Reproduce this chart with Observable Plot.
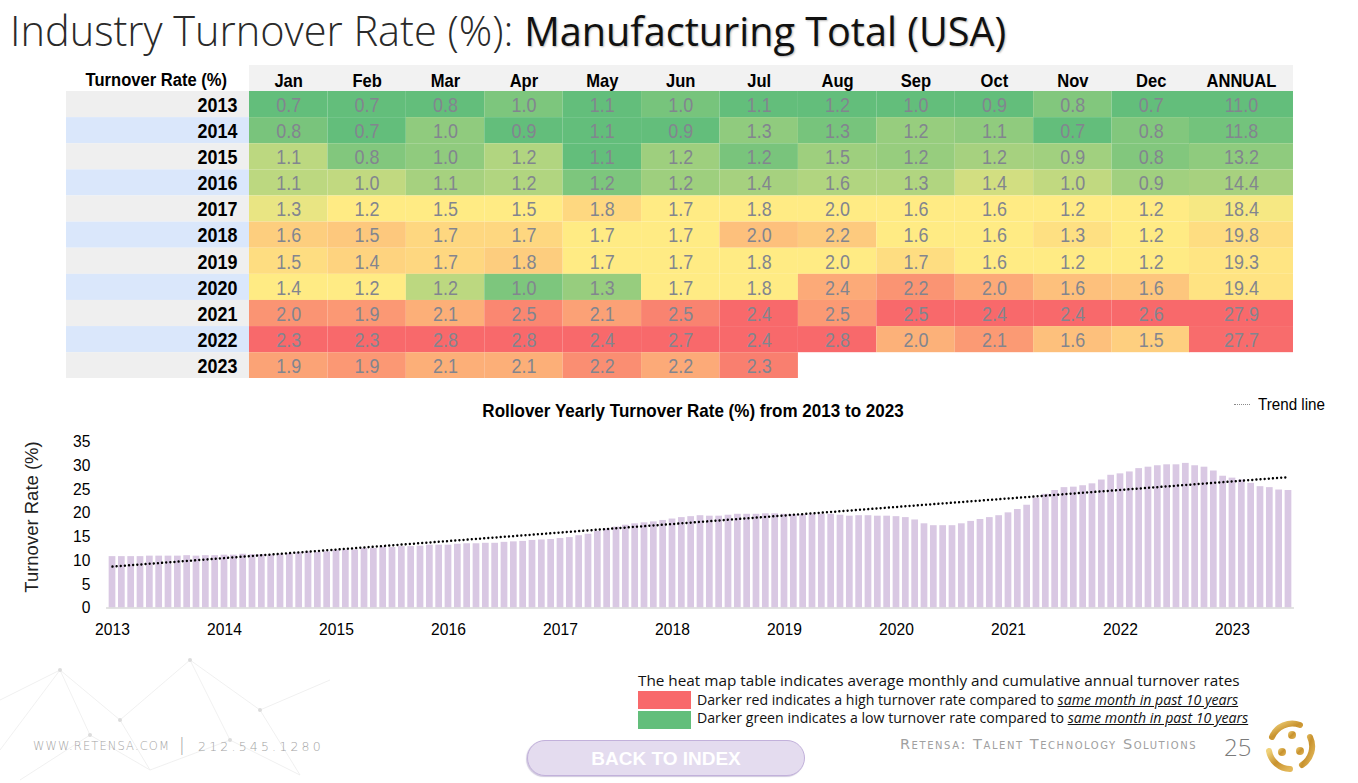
<!DOCTYPE html>
<html>
<head>
<meta charset="utf-8">
<script src="https://cdn.jsdelivr.net/npm/d3@7"></script>
<script src="https://cdn.jsdelivr.net/npm/@observablehq/plot@0.6"></script>
<style>
  html, body { margin:0; padding:0; background:#fff; }
  body { width:1358px; height:783px; position:relative; overflow:hidden; }
  .abs { position:absolute; }
  .narrow { font-family:"Liberation Sans Narrow","Arial Narrow","Liberation Sans",Arial,sans-serif; }
  .sq { transform:scaleX(0.92); transform-origin:0 0; }
  #title { left:10px; top:0px; font-family:"Open Sans","Noto Sans",sans-serif; white-space:nowrap; color:#2a2a2a; line-height:60px; }
  #title .light { font-weight:300; font-size:41.5px; }
  #title .reg { font-weight:400; font-size:39.6px; color:#111; text-shadow:1px 1px 2px rgba(0,0,0,0.28); }
  #hdrbg { left:249px; top:65px; width:1044px; height:26px; background:#f2f2f2; }
  #hdrlabel { left:66px; top:65px; width:161px; height:26px; line-height:31px; text-align:right; font-weight:bold; font-size:18px; color:#000; transform:scaleX(0.92); transform-origin:100% 0; }
  #chartTitle { left:393px; top:400px; width:600px; text-align:center; font-weight:bold; font-size:18.5px; color:#000; transform:scaleX(0.92); transform-origin:50% 0; }
  #ylabel { left:32px; top:517px; transform:translate(-50%,-50%) rotate(-90deg); font-family:"Liberation Sans",Arial,sans-serif; font-size:18.5px; color:#222; white-space:nowrap; }
  #trendLeg { left:1234px; top:404px; width:16px; border-top:1.5px dotted #8a8a8a; }
  #trendTxt { left:1258px; top:395px; font-size:16.5px; color:#000; }
  .note { font-family:"Open Sans","Noto Sans",sans-serif; color:#111; white-space:nowrap; }
  .note u { font-style:italic; }
  .sw { width:53px; height:18px; }
  .foot { top:739px; font-family:"DejaVu Sans","Lato",sans-serif; font-weight:300; font-size:11.5px; color:#a3a3a3; white-space:nowrap; }
  #btn { left:527px; top:740px; width:276px; height:34px; border-radius:18px; background:#e4dcef; border:1.5px solid #c2b1db; box-shadow:-1px 1px 1px rgba(120,100,160,0.35); font-family:"Liberation Sans",Arial,sans-serif; font-weight:bold; font-size:19px; color:#fff; text-align:center; line-height:36px; }
  #footR { left:900px; top:736px; font-family:"DejaVu Sans","Lato",sans-serif; font-size:14.5px; font-variant:small-caps; letter-spacing:1.55px; color:#a0a0a0; white-space:nowrap; }
  #page { left:1224px; top:730px; font-family:"Open Sans","Noto Sans",sans-serif; font-weight:300; font-size:24px; color:#7a7a7a; }
</style>
</head>
<body>
<svg class="abs" style="left:0;top:640px" width="360" height="143">
  <g stroke="#ececec" stroke-width="0.8" fill="none">
    <path d="M0,60 L60,30 L120,80 L190,20 L260,70 L330,40"/>
    <path d="M20,140 L90,95 L150,130 L230,100 L300,135"/>
    <path d="M60,30 L90,95 M120,80 L150,130 M190,20 L230,100 M260,70 L300,135 M0,110 L60,30"/>
  </g>
  <g fill="#dcdcdc">
    <circle cx="60" cy="30" r="2"/><circle cx="120" cy="80" r="2"/><circle cx="190" cy="20" r="2"/>
    <circle cx="260" cy="70" r="2"/><circle cx="90" cy="95" r="2"/><circle cx="230" cy="100" r="2"/>
  </g>
</svg>

<div id="title" class="abs"><span class="light">Industry Turnover Rate (%): </span><span class="reg">Manufacturing Total (USA)</span></div>

<div id="hdrbg" class="abs"></div>
<div id="hdrlabel" class="abs narrow">Turnover Rate (%)</div>
<div id="labelCol" class="abs sq" style="left:66px;top:65px"></div>
<div id="monthCol" class="abs sq" style="left:249px;top:65px"></div>
<div id="annualCol" class="abs sq" style="left:1189px;top:65px"></div>

<div id="chartTitle" class="abs narrow">Rollover Yearly Turnover Rate (%) from 2013 to 2023</div>
<div id="trendLeg" class="abs"></div>
<div id="trendTxt" class="abs narrow sq">Trend line</div>
<div id="ylabel" class="abs">Turnover Rate (%)</div>
<div id="barChart" class="abs sq" style="left:0;top:425px"></div>

<div class="abs note" style="left:638px;top:670px;font-size:15.3px">The heat map table indicates average monthly and cumulative annual turnover rates</div>
<div class="abs sw" style="left:638px;top:691px;background:#f8696b"></div>
<div class="abs note" style="left:697px;top:690px;font-size:14.15px">Darker red indicates a high turnover rate compared to <u>same month in past 10 years</u></div>
<div class="abs sw" style="left:638px;top:711px;background:#63be7b"></div>
<div class="abs note" style="left:697px;top:708px;font-size:14.15px">Darker green indicates a low turnover rate compared to <u>same month in past 10 years</u></div>

<div class="abs foot" style="left:33px;letter-spacing:1.1px">WWW.RETENSA.COM</div>
<div class="abs foot" style="left:179px;top:735px;font-size:17px">|</div>
<div class="abs foot" style="left:198px;font-size:12.5px;letter-spacing:3.2px">212.545.1280</div>
<div id="btn" class="abs">BACK TO INDEX</div>
<div id="footR" class="abs">Retensa: Talent Technology Solutions</div>
<div id="page" class="abs">25</div>
<svg class="abs" style="left:1262px;top:717px" width="58" height="58" viewBox="0 0 58 58">
  <defs><linearGradient id="gold" x1="0" y1="0" x2="1" y2="1"><stop offset="0" stop-color="#f0d27a"/><stop offset="0.5" stop-color="#c8922e"/><stop offset="1" stop-color="#e3b85a"/></linearGradient></defs>
  <g fill="none" stroke="url(#gold)" stroke-width="6" stroke-linecap="round">
    <path d="M10,20 A22,22 0 0 1 38,8"/>
    <path d="M48,20 A22,22 0 0 1 40,48"/>
    <path d="M28,52 A22,22 0 0 1 7,34"/>
  </g>
  <g fill="url(#gold)"><circle cx="30" cy="18" r="4"/><circle cx="38" cy="34" r="4"/><circle cx="20" cy="35" r="4"/></g>
</svg>

<script>
// ---------- DATA ----------
const years = [2013, 2014, 2015, 2016, 2017, 2018, 2019, 2020, 2021, 2022, 2023];
const months = ["Jan","Feb","Mar","Apr","May","Jun","Jul","Aug","Sep","Oct","Nov","Dec"];
const annualLabel = "ANNUAL";
const monthlyRates = [
  [0.7, 0.7, 0.8, 1.0, 1.1, 1.0, 1.1, 1.2, 1.0, 0.9, 0.8, 0.7],
  [0.8, 0.7, 1.0, 0.9, 1.1, 0.9, 1.3, 1.3, 1.2, 1.1, 0.7, 0.8],
  [1.1, 0.8, 1.0, 1.2, 1.1, 1.2, 1.2, 1.5, 1.2, 1.2, 0.9, 0.8],
  [1.1, 1.0, 1.1, 1.2, 1.2, 1.2, 1.4, 1.6, 1.3, 1.4, 1.0, 0.9],
  [1.3, 1.2, 1.5, 1.5, 1.8, 1.7, 1.8, 2.0, 1.6, 1.6, 1.2, 1.2],
  [1.6, 1.5, 1.7, 1.7, 1.7, 1.7, 2.0, 2.2, 1.6, 1.6, 1.3, 1.2],
  [1.5, 1.4, 1.7, 1.8, 1.7, 1.7, 1.8, 2.0, 1.7, 1.6, 1.2, 1.2],
  [1.4, 1.2, 1.2, 1.0, 1.3, 1.7, 1.8, 2.4, 2.2, 2.0, 1.6, 1.6],
  [2.0, 1.9, 2.1, 2.5, 2.1, 2.5, 2.4, 2.5, 2.5, 2.4, 2.4, 2.6],
  [2.3, 2.3, 2.8, 2.8, 2.4, 2.7, 2.4, 2.8, 2.0, 2.1, 1.6, 1.5],
  [1.9, 1.9, 2.1, 2.1, 2.2, 2.2, 2.3, null, null, null, null, null]
];
const annualRates = [11.0, 11.8, 13.2, 14.4, 18.4, 19.8, 19.3, 19.4, 27.9, 27.7, null];

// rolling 12-month turnover (bars)
const rolling2013 = [10.8, 10.8, 10.8, 10.8, 10.9, 10.9, 10.9, 10.9, 11.0, 10.9, 11.0, 11.0];
const rolling2014 = [11.1, 11.1, 11.3, 11.2, 11.2, 11.1, 11.3, 11.4, 11.6, 11.8, 11.7, 11.8];
const rolling2015 = [12.1, 12.2, 12.2, 12.5, 12.5, 12.8, 12.7, 12.9, 12.9, 13.0, 13.2, 13.2];
const rolling2016 = [13.2, 13.4, 13.5, 13.5, 13.6, 13.6, 13.8, 13.9, 14.0, 14.2, 14.3, 14.4];
const rolling2017 = [14.6, 14.8, 15.2, 15.5, 16.1, 16.6, 17.0, 17.4, 17.7, 17.9, 18.1, 18.4];
const rolling2018 = [18.7, 19.0, 19.2, 19.4, 19.3, 19.3, 19.5, 19.7, 19.7, 19.7, 19.8, 19.8];
const rolling2019 = [19.7, 19.6, 19.6, 19.7, 19.7, 19.7, 19.5, 19.3, 19.4, 19.4, 19.3, 19.3];
const rolling2020 = [19.2, 19.0, 18.5, 17.7, 17.3, 17.3, 17.3, 17.7, 18.2, 18.6, 19.0, 19.4];
const rolling2021 = [20.0, 20.7, 21.6, 23.1, 23.9, 24.7, 25.3, 25.4, 25.7, 26.1, 26.9, 27.9];
const rolling2022 = [28.2, 28.6, 29.3, 29.6, 29.9, 30.1, 30.1, 30.4, 29.9, 29.6, 28.8, 27.7];
const rolling2023 = [27.3, 26.9, 26.2, 25.5, 25.3, 24.8, 24.7];
const trendEnds = [8.7, 27.5];
const yTicks = [0, 5, 10, 15, 20, 25, 30, 35];

// ---------- BUILD ----------
const S = 0.92; // horizontal squeeze applied by CSS to get condensed lettering
const NARROW = '"Liberation Sans Narrow","Arial Narrow","Liberation Sans",Arial,sans-serif';
const heatColors = ["#63be7b", "#ffeb84", "#f8696b"];
const yearLabels = years.map(String);
const TABLE_H = 26 + 11 * 26.12;

function mount(id, plot, width) {
  const el = document.getElementById(id);
  el.style.width = (width / S) + "px";
  el.append(plot);
}

// per-column 3-color scale position (min -> median -> max), like a spreadsheet color scale
function normalizer(values) {
  const v = values.filter(d => d != null);
  const lo = d3.min(v), hi = d3.max(v), mid = d3.median(v);
  return x => x <= mid ? 0.5 * (mid === lo ? 1 : (x - lo) / (mid - lo)) : 0.5 + 0.5 * (x - mid) / (hi - mid);
}
const cells = [];
months.forEach((m, j) => {
  const col = monthlyRates.map(r => r[j]);
  const f = normalizer(col);
  col.forEach((v, i) => { if (v != null) cells.push({year: yearLabels[i], col: m, value: v, t: f(v)}); });
});
const annualCells = [];
{
  const f = normalizer(annualRates);
  annualRates.forEach((v, i) => { if (v != null) annualCells.push({year: yearLabels[i], col: annualLabel, value: v, t: f(v)}); });
}

function heat(data, domain, width) {
  return Plot.plot({
    width: width / S, height: TABLE_H, marginTop: 26, marginBottom: 0, marginLeft: 0, marginRight: 0,
    style: {background: "transparent", fontFamily: NARROW, fontSize: "18px", fontWeight: "bold", color: "#000"},
    x: {domain, axis: "top", padding: 0, round: false, tickSize: 0, tickPadding: 4, label: null},
    y: {domain: yearLabels, padding: 0, round: false, axis: null},
    color: {type: "linear", domain: [0, 0.5, 1], range: heatColors, interpolate: "rgb"},
    marks: [
      Plot.cell(data, {x: "col", y: "year", fill: "t"}),
      Plot.text(data, {x: "col", y: "year", text: d => d.value.toFixed(1), fill: "#82858f", fontSize: 19.5, fontWeight: "normal", dy: 1})
    ]
  });
}

const labelPlot = Plot.plot({
  width: 183 / S, height: TABLE_H, marginTop: 26, marginBottom: 0, marginLeft: 0, marginRight: 0,
  style: {background: "transparent", fontFamily: NARROW, color: "#000"},
  y: {domain: yearLabels, padding: 0, round: false, axis: null},
  color: {type: "identity"},
  marks: [
    Plot.cell(yearLabels, {y: d => d, fill: (d, i) => i % 2 ? "#dae7fb" : "#efefef"}),
    Plot.text(yearLabels, {y: d => d, text: d => d, frameAnchor: "right", dx: -12 / S, dy: 1, fontSize: 19.5, fontWeight: "bold", fill: "#000"})
  ]
});
mount("labelCol", labelPlot, 183);
mount("monthCol", heat(cells, months, 941), 941);
mount("annualCol", heat(annualCells, [annualLabel], 104), 104);

// bar chart
const rollingValues = [].concat(rolling2013, rolling2014, rolling2015, rolling2016, rolling2017,
  rolling2018, rolling2019, rolling2020, rolling2021, rolling2022, rolling2023);
const monthKeys = [];
years.forEach(y => months.forEach((m, j) => monthKeys.push(`${y}-${String(j + 1).padStart(2, "0")}`)));
const keys = monthKeys.slice(0, rollingValues.length);
const bars = rollingValues.map((v, i) => ({key: keys[i], value: v}));
const trend = [{key: keys[0], value: trendEnds[0]}, {key: keys[keys.length - 1], value: trendEnds[1]}];
const janKeys = keys.filter(k => k.endsWith("-01"));

const barPlot = Plot.plot({
  width: 1358 / S, height: 225, marginTop: 16, marginBottom: 42.5, marginLeft: 106 / S, marginRight: 64 / S,
  style: {background: "transparent", fontFamily: NARROW, fontSize: "17px", color: "#000"},
  x: {domain: keys, padding: 0.28, round: false, ticks: janKeys, tickFormat: k => k.endsWith("-01") ? k.slice(0, 4) : "", tickSize: 0, tickPadding: 15, label: null},
  y: {domain: [0, 35], ticks: yTicks, tickSize: 0, tickPadding: 16 / S, label: null},
  marks: [
    Plot.barY(bars, {x: "key", y: "value", fill: "#d9c8e3"}),
    Plot.ruleY([0], {stroke: "#d9d9d9", strokeWidth: 1.5}),
    Plot.line(trend, {x: "key", y: "value", stroke: "#000", strokeWidth: 2.5, strokeDasharray: "0.1,4.4", strokeLinecap: "round"})
  ]
});
mount("barChart", barPlot, 1358);
</script>
</body>
</html>
